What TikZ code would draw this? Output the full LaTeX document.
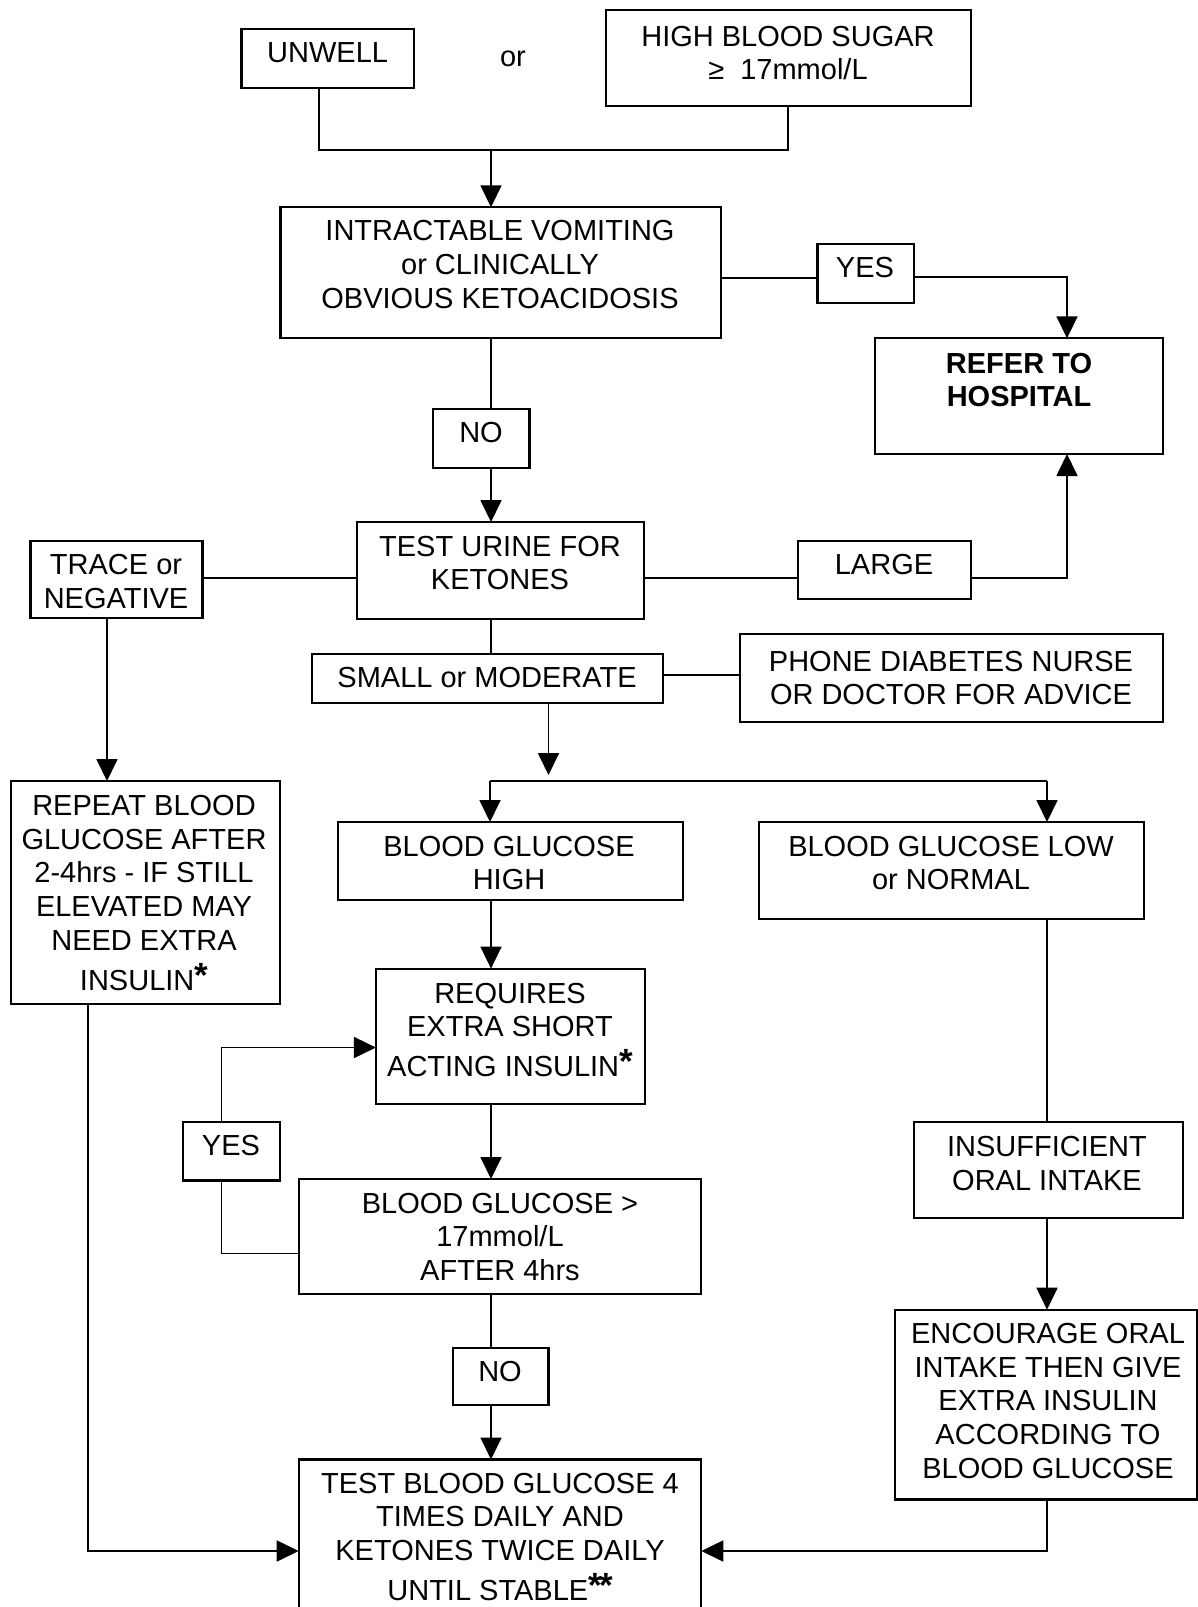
\documentclass[tikz,border=0pt]{standalone}
\usepackage{fontspec}
\setmainfont{Liberation Sans}
\usetikzlibrary{arrows.meta}
\newcommand\stt{\rule[-4pt]{0pt}{27.95pt}}
\newcommand\starsup{\raisebox{0.12em}{\fontsize{35pt}{35pt}\selectfont\bfseries *}}
\newcommand\bx[5]{\node[box, minimum width={#4-#2}, minimum height={#5-#3}] (#1) at ({(#2+#4)/2},{(#3+#5)/2}) {};}
\tikzset{
  box/.style={draw, line width=2.2pt, inner sep=0pt, outer sep=0pt},
  txt/.style={align=center, inner sep=0pt, font=\fontsize{29pt}{33.7pt}\selectfont},
  conn/.style={line width=1.8pt},
  arr/.style={conn, -{Triangle[length=22pt,width=21pt]}},
}
\begin{document}
\begin{tikzpicture}[x=1pt,y=-1pt]
\useasboundingbox (0,0) rectangle (1198,1607);
\fill[white] (0,0) rectangle (1198,1607);
\clip (0,0) rectangle (1198,1607);

% boxes
\bx{unwell}{241.4}{29}{414}{87.7}
\bx{high}{605.8}{9.7}{971}{106.3}
\bx{intract}{280.4}{207.3}{721.2}{338.3}
\bx{yes1}{817.4}{244.3}{913.7}{303.3}
\bx{refer}{874.7}{338.3}{1162.7}{454}
\bx{no1}{433}{409.3}{529.4}{467.7}
\bx{testu}{356.8}{522}{644}{618.6}
\bx{trace}{30.5}{541}{202.4}{618}
\bx{large}{798}{541}{971}{599}
\bx{small}{311.7}{654}{663}{703}
\bx{phone}{740}{633.6}{1163}{721.8}
\bx{repeat}{10.7}{781}{279.6}{1004}
\bx{bghigh}{337.7}{822}{683}{899.6}
\bx{bglow}{759}{822}{1143.6}{918.6}
\bx{requires}{375.9}{968.6}{644.8}{1103.8}
\bx{yes2}{183}{1122.3}{279.6}{1180.4}
\bx{bggt}{298.7}{1179}{701.3}{1293.8}
\bx{no2}{453}{1347.7}{548.5}{1405.3}
\bx{testbg}{298.7}{1459.5}{701.3}{1640}
\bx{insuff}{913.7}{1122}{1182.6}{1218}
\bx{encourage}{894.6}{1309.7}{1197}{1499.4}

% texts
\node[txt] (t-unwell) at (327.6,53) {\stt UNWELL};
\node[txt] (t-or) at (513,57) {\stt or};
\node[txt] (t-high) at (788,53) {\stt HIGH BLOOD SUGAR\\\stt ≥\ \ 17mmol/L};
\node[txt] (t-intract) at (500,264.7) {\stt INTRACTABLE VOMITING\\\stt or CLINICALLY\\\stt OBVIOUS KETOACIDOSIS};
\node[txt] (t-yes1) at (865,268) {\stt YES};
\node[txt,font=\fontsize{29pt}{33.7pt}\selectfont\bfseries] (t-refer) at (1019,380) {\stt REFER TO\\\stt HOSPITAL};
\node[txt] (t-no1) at (481,433) {\stt NO};
\node[txt] (t-testu) at (500,563) {\stt TEST URINE FOR\\\stt KETONES};
\node[txt] (t-trace) at (116,581.5) {\stt TRACE or\\\stt NEGATIVE};
\node[txt] (t-large) at (884,565) {\stt LARGE};
\node[txt] (t-small) at (487,678) {\stt SMALL or MODERATE};
\node[txt] (t-phone) at (951,678) {\stt PHONE DIABETES NURSE\\\stt OR DOCTOR FOR ADVICE};
\node[txt] (t-repeat) at (144,893) {\stt REPEAT BLOOD\\\stt GLUCOSE AFTER\\\stt 2-4hrs - IF STILL\\\stt ELEVATED MAY\\\stt NEED EXTRA\\[6.5pt]\stt INSULIN\starsup};
\node[txt] (t-bghigh) at (509,863) {\stt BLOOD GLUCOSE\\\stt HIGH};
\node[txt] (t-bglow) at (951,863) {\stt BLOOD GLUCOSE LOW\\\stt or NORMAL};
\node[txt] (t-requires) at (510,1030) {\stt REQUIRES\\\stt EXTRA SHORT\\[6.5pt]\stt ACTING INSULIN\starsup};
\node[txt] (t-yes2) at (231,1146) {\stt YES};
\node[txt] (t-bggt) at (500,1237) {\stt BLOOD GLUCOSE >\\\stt 17mmol/L\\\stt AFTER 4hrs};
\node[txt] (t-no2) at (500,1371.7) {\stt NO};
\node[txt] (t-testbg) at (500,1537) {\stt TEST BLOOD GLUCOSE 4\\\stt TIMES DAILY AND\\\stt KETONES TWICE DAILY\\[6.5pt]\stt UNTIL STABLE\starsup\kern-0.1em\starsup};
\node[txt] (t-insuff) at (1047,1163.5) {\stt INSUFFICIENT\\\stt ORAL INTAKE};
\node[txt] (t-encourage) at (1048,1401) {\stt ENCOURAGE ORAL\\\stt INTAKE THEN GIVE\\\stt EXTRA INSULIN\\\stt ACCORDING TO\\\stt BLOOD GLUCOSE};

% connectors
\coordinate (mL) at (319,150);
\coordinate (mR) at (788,150);
\coordinate (mC) at (491,150);
\draw[conn] (unwell.south -| mL) -- (mL) -- (mR) -- (high.south -| mR);
\draw[arr] (mC) -- (intract.north -| mC);

\coordinate (yL) at (0,278);
\coordinate (yR) at (1067,277);
\draw[conn] (intract.east |- yL) -- (yes1.west |- yL);
\draw[arr] (yes1.east |- yR) -- (yR) -- (refer.north -| yR);

\coordinate (cx) at (491,0);
\draw[conn] (intract.south -| cx) -- (no1.north -| cx);
\draw[arr] (no1.south -| cx) -- (testu.north -| cx);

\coordinate (uy) at (0,578);
\draw[conn] (testu.west |- uy) -- (trace.east |- uy);
\draw[conn] (testu.east |- uy) -- (large.west |- uy);
\draw[arr] (large.east |- uy) -| (refer.south -| yR);

\draw[conn] (testu.south -| cx) -- (small.north -| cx);
\coordinate (sy) at (0,675);
\draw[conn] (small.east |- sy) -- (phone.west |- sy);
\coordinate (sA) at (548.5,775);
\draw[arr] (small.south -| sA) -- (sA);
\coordinate (spL) at (490,781);
\coordinate (spR) at (1047,781);
\draw[conn] (spL) -- (spR);
\draw[arr] (spL) -- (bghigh.north -| spL);
\draw[arr] (spR) -- (bglow.north -| spR);

\coordinate (tx) at (107,0);
\draw[arr] (trace.south -| tx) -- (repeat.north -| tx);

\draw[arr] (bghigh.south -| cx) -- (requires.north -| cx);
\draw[arr] (requires.south -| cx) -- (bggt.north -| cx);

\coordinate (lx) at (221.5,1253.5);
\coordinate (lt) at (221.5,1047.5);
\draw[conn] (bggt.west |- lx) -- (lx) -- (yes2.south -| lx);
\draw[arr] (yes2.north -| lt) -- (lt) -- (requires.west |- lt);

\draw[conn] (bggt.south -| cx) -- (no2.north -| cx);
\draw[arr] (no2.south -| cx) -- (testbg.north -| cx);

\coordinate (rx) at (88,1551);
\draw[arr] (repeat.south -| rx) -- (rx) -- (testbg.west |- rx);

\coordinate (ex) at (1047,1551);
\draw[conn] (bglow.south -| ex) -- (insuff.north -| ex);
\draw[arr] (insuff.south -| ex) -- (encourage.north -| ex);
\draw[arr] (encourage.south -| ex) -- (ex) -- (testbg.east |- ex);
\end{tikzpicture}
\end{document}
